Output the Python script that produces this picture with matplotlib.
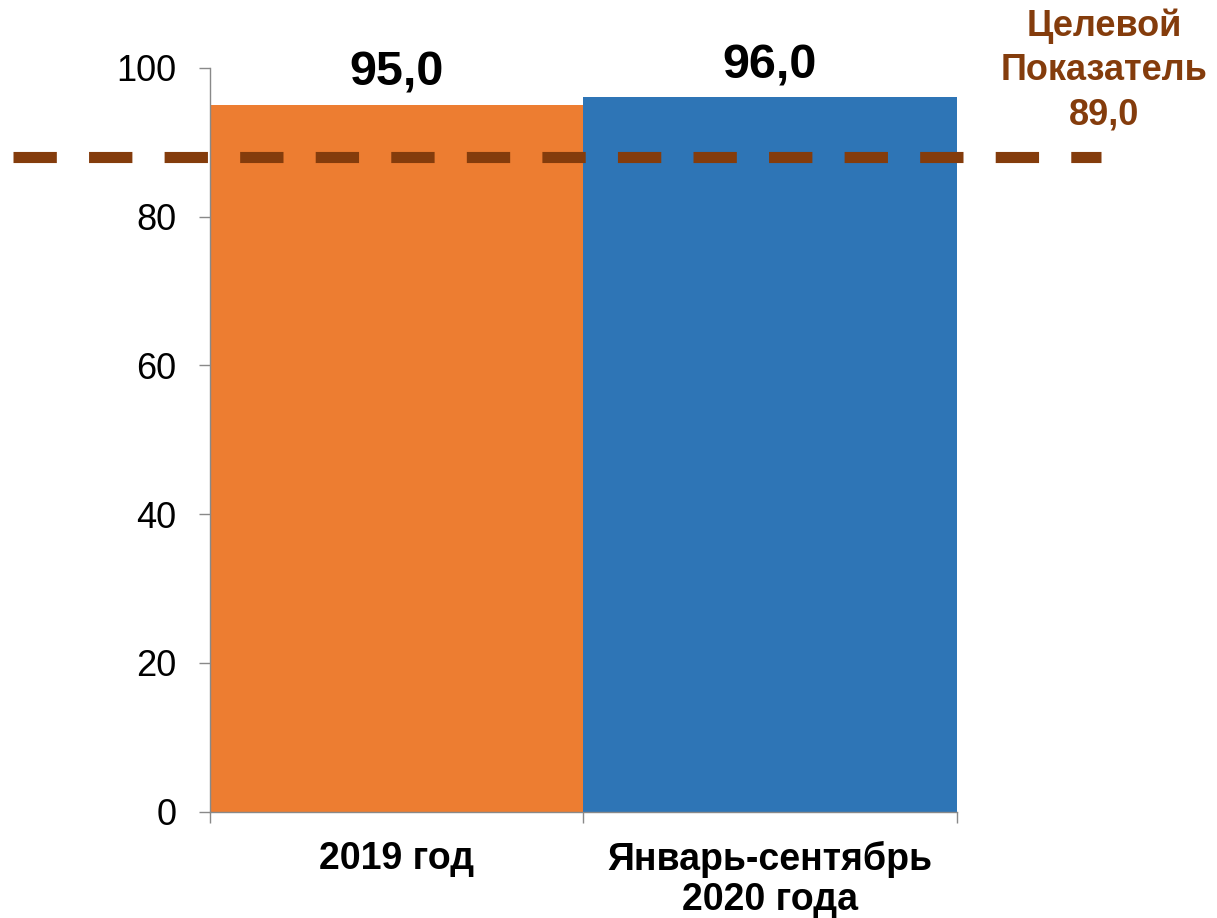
import matplotlib
matplotlib.use("Agg")
import matplotlib.pyplot as plt

categories = ["2019 год", "Январь-сентябрь\n2020 года"]
values = [95.0, 96.0]
value_labels = ["95,0", "96,0"]
bar_colors = ["#ED7D31", "#2E75B6"]
target_level = 88.0          # where the dashed line sits in the picture
target_label = "Целевой\nПоказатель\n89,0"
yticks = [0, 20, 40, 60, 80, 100]

BROWN = "#843C0C"
GREY = "#898989"

plt.rcParams["font.family"] = ["Liberation Sans", "DejaVu Sans"]

fig = plt.figure(figsize=(12.17, 9.18), dpi=100)
ax = fig.add_axes([210 / 1217, 1 - 811.7 / 918, 746.7 / 1217, 744 / 918])

x = list(range(len(categories)))
ax.bar(x, values, width=1.0, color=bar_colors, zorder=1)
for xi, v, lab in zip(x, values, value_labels):
    ax.annotate(lab, (xi, v), xytext=(0, 14), textcoords="offset points",
                ha="center", va="baseline", fontsize=35, fontweight="bold")

# target line runs past the axes on both sides
line = ax.axhline(target_level, xmin=-0.264, xmax=1.193, color=BROWN,
                  linewidth=8, clip_on=False, zorder=3,
                  solid_capstyle="butt", dash_capstyle="butt")
line.set_dashes([3.9, 2.9])
fig.text(1104 / 1217, 1 - 8 / 918, target_label, ha="center", va="top",
         fontsize=26, fontweight="bold", color=BROWN, linespacing=1.36)

ax.set_xlim(-0.5, len(categories) - 0.5)
ax.set_ylim(0, 100)
ax.set_yticks(yticks)
ax.set_xticks(x)
ax.set_xticklabels(categories, fontsize=27, fontweight="bold", linespacing=1.15)
ax.set_xticks([i - 0.5 for i in range(len(categories) + 1)], minor=True)
ax.tick_params(axis="x", which="major", length=0, pad=21)
ax.tick_params(axis="x", which="minor", length=8, width=1, color=GREY)
ax.tick_params(axis="y", length=8, width=1, color=GREY, labelsize=26, pad=16)

for side in ("top", "right"):
    ax.spines[side].set_visible(False)
for side in ("left", "bottom"):
    ax.spines[side].set_color(GREY)
    ax.spines[side].set_linewidth(1)

fig.savefig("out.png")
